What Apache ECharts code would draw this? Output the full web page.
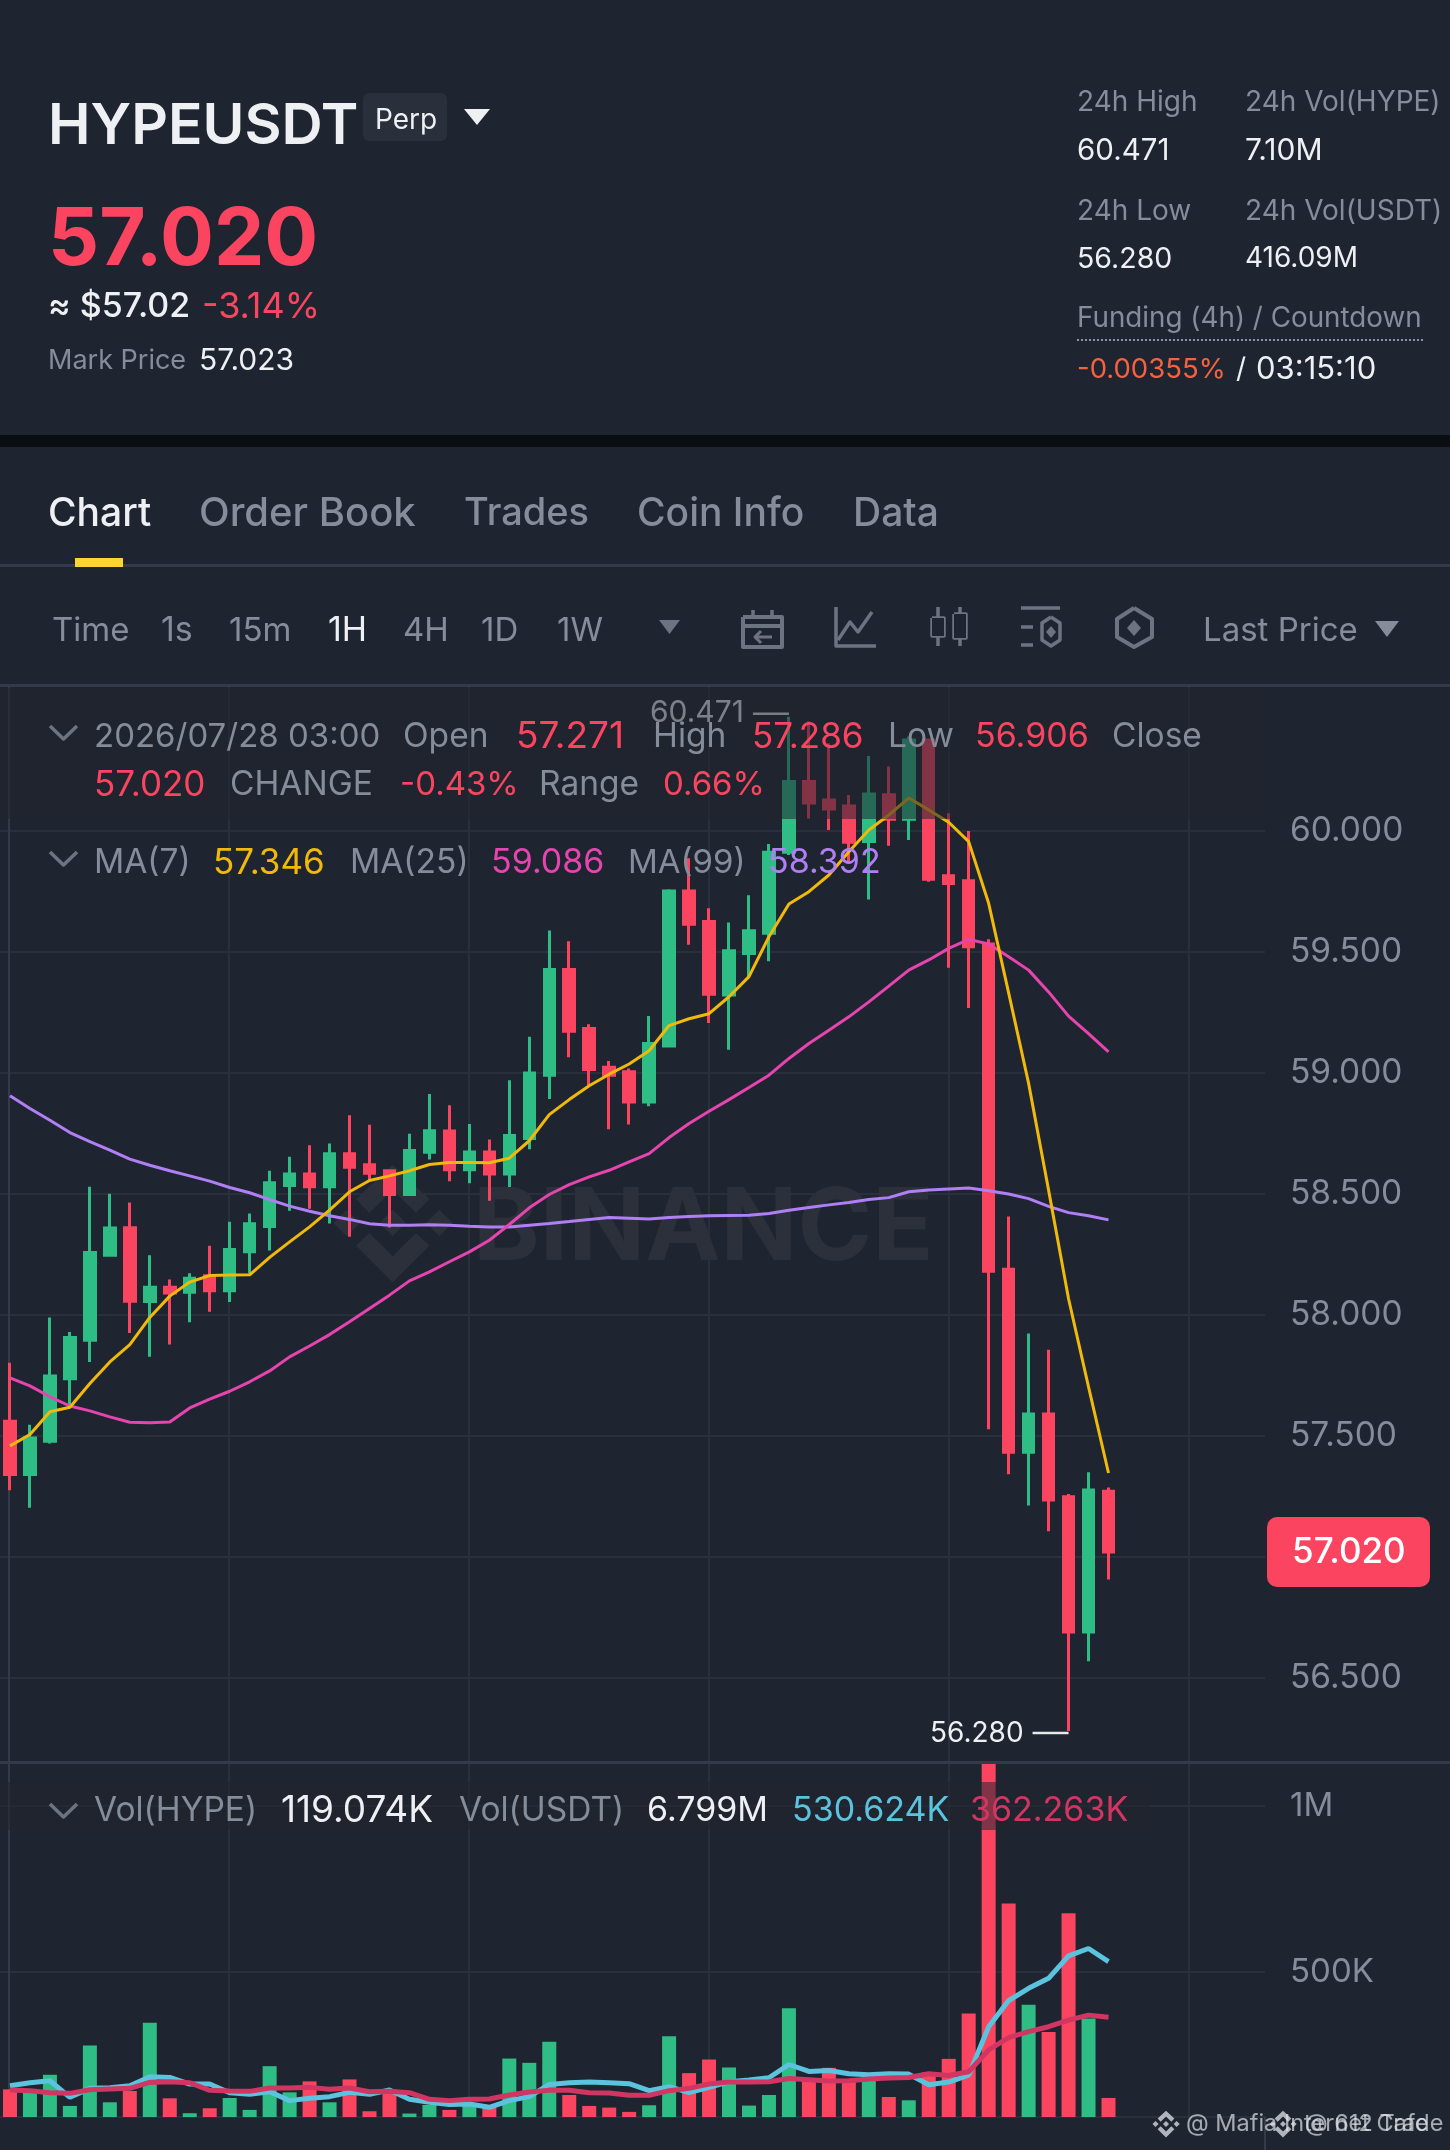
<!DOCTYPE html>
<html>
<head>
<meta charset="utf-8">
<script src="https://cdn.jsdelivr.net/npm/echarts@6/dist/echarts.min.js"></script>
<style>html,body{margin:0;padding:0;background:#1f2530}#c{width:1450px;height:2150px}</style>
</head>
<body>
<div id="c"></div>
<script>
// ---------- data ----------
const opens  = [57.560,57.340,57.477,57.736,57.895,58.246,58.359,58.055,58.114,58.093,58.161,58.099,58.260,58.365,58.534,58.582,58.529,58.665,58.620,58.595,58.497,58.671,58.759,58.599,58.672,58.582,58.728,58.990,59.427,59.183,59.023,59.004,58.879,59.111,59.751,59.625,59.321,59.493,59.576,59.911,60.203,60.127,60.102,59.955,60.149,60.047,60.375,59.814,59.793,59.532,58.188,57.432,57.590,57.248,56.689,57.271];
const closes = [57.340,57.491,57.747,57.906,58.257,58.358,58.056,58.114,58.090,58.151,58.099,58.270,58.376,58.545,58.582,58.529,58.665,58.610,58.585,58.497,58.679,58.760,58.599,58.672,58.582,58.741,58.999,59.427,59.171,59.013,58.990,58.879,59.121,59.751,59.614,59.324,59.504,59.587,59.911,60.203,60.115,60.090,59.952,60.152,60.047,60.375,59.800,59.782,59.521,58.180,57.432,57.590,57.235,56.689,57.276,57.020];
const lows   = [57.275,57.203,57.468,57.619,57.805,58.246,57.925,57.826,57.877,57.969,58.012,58.053,58.170,58.266,58.430,58.438,58.377,58.322,58.556,58.361,58.497,58.642,58.552,58.543,58.471,58.528,58.684,58.891,59.064,58.949,58.767,58.786,58.862,59.111,59.529,59.206,59.095,59.397,59.461,59.900,60.051,60.003,59.865,59.716,59.938,59.962,59.789,59.434,59.268,57.527,57.341,57.212,57.105,56.280,56.568,56.906];
const highs  = [57.802,57.546,57.989,57.929,58.529,58.500,58.464,58.246,58.146,58.172,58.285,58.384,58.418,58.595,58.653,58.700,58.708,58.824,58.785,58.595,58.748,58.912,58.866,58.788,58.724,58.969,59.149,59.588,59.543,59.200,59.049,59.018,59.234,59.758,59.886,59.680,59.621,59.733,59.945,60.471,60.452,60.361,60.148,60.309,60.265,60.389,60.375,60.072,59.999,59.552,58.406,57.923,57.855,57.259,57.349,57.286];
const ma7    = [57.458,57.505,57.599,57.618,57.716,57.805,57.877,57.989,58.077,58.135,58.162,58.164,58.165,58.237,58.301,58.363,58.432,58.508,58.555,58.574,58.595,58.621,58.629,58.629,58.628,58.647,58.719,58.827,58.889,58.946,58.994,59.036,59.091,59.195,59.223,59.244,59.314,59.397,59.562,59.697,59.748,59.817,59.913,60.003,60.065,60.135,60.086,60.035,59.955,59.700,59.330,58.956,58.515,58.066,57.702,57.346];
const ma25   = [57.739,57.706,57.661,57.623,57.603,57.578,57.556,57.554,57.557,57.615,57.651,57.684,57.723,57.768,57.826,57.871,57.918,57.971,58.026,58.081,58.140,58.177,58.219,58.260,58.308,58.373,58.442,58.497,58.538,58.570,58.597,58.632,58.666,58.732,58.790,58.841,58.889,58.939,58.990,59.059,59.121,59.176,59.231,59.293,59.358,59.424,59.466,59.514,59.551,59.532,59.479,59.424,59.334,59.234,59.162,59.086];
const ma99   = [58.905,58.852,58.804,58.753,58.715,58.680,58.643,58.618,58.595,58.574,58.552,58.526,58.504,58.476,58.449,58.428,58.409,58.394,58.376,58.370,58.370,58.372,58.370,58.366,58.363,58.363,58.370,58.377,58.385,58.394,58.402,58.399,58.396,58.402,58.406,58.409,58.410,58.411,58.418,58.432,58.443,58.454,58.464,58.476,58.484,58.508,58.515,58.520,58.524,58.512,58.499,58.480,58.448,58.422,58.409,58.392];
const volumes= [145,143,189,95,277,106,140,346,118,73,88,119,83,215,136,169,106,175,79,138,72,98,83,103,93,238,225,289,128,95,90,77,97,305,194,235,211,96,128,390,173,210,173,173,122,112,196,237,374,1160,706,400,318,676,359,119.074];
const volMa5 = [156,165,171,121,148,150,156,183,181,161,161,135,130,138,111,118,123,136,130,143,115,106,99,101,91,111,123,160,165,167,165,162,141,153,135,151,168,173,180,220,199,202,192,189,192,191,159,167,188,334,413,450,480,548,570,530.624];
const volMa10= [143,141,135,133,144,146,148,166,168,165,142,140,139,149,149,151,145,149,138,139,135,115,111,115,116,128,137,142,142,135,134,127,127,141,148,161,167,167,168,178,174,170,171,176,179,181,192,187,198,264,301,319,334,354,369,362.263];
const priceTicks = [56.5,57,57.5,58,58.5,59,59.5,60];
const volTicks = [500,1000];
const timeGridIndex = [11,23,35,47,59];

const GREEN='#2EBD85', RED='#FB4560', BG='#1f2530', GRID='#2a303b', SEP='#343a47',
      GRAY='#858c9a', WHITE='#eef0f3', YEL='#F0B90B', PINK='#E644AE', PURP='#B17FF5',
      BLUE='#5BC3DD', CRIM='#D13663', DIM='#6d7481';
const FONT='Inter, "Noto Sans", sans-serif';

const slots = 63;
const cats = [];
for (let i=0;i<slots;i++) cats.push(String(i));
const candles = opens.map((o,i)=>[o,closes[i],lows[i],highs[i]]);
const volData = volumes.map((v,i)=>({value:v,itemStyle:{color:closes[i]>=opens[i]?GREEN:RED}}));

// ---------- page furniture ----------
const g=[];
function T(text,x,y,fill,size,weight,extra){g.push(Object.assign({type:'text',z:60,silent:true,style:{text,x,y,fill,font:(weight||400)+' '+size+'px '+FONT,textAlign:'left',textVerticalAlign:'middle',textBaseline:'middle'}},extra||{}));}
function R(x,y,w,h,fill,z,r){g.push({type:'rect',z:z==null?60:z,silent:true,shape:{x,y,width:w,height:h,r:r||0},style:{fill}});}
function P(pts,fill,z){g.push({type:'polygon',z:z==null?60:z,silent:true,shape:{points:pts},style:{fill}});}
function L(pts,stroke,w,z){g.push({type:'polyline',z:z==null?60:z,silent:true,shape:{points:pts},style:{stroke,lineWidth:w||3,fill:null,lineJoin:'round'}});}
// exchange logo, drawn around a centre point at a given scale
function logo(cx,cy,s,c,z){
  const m=a=>a.map(p=>[cx+p[0]*s,cy+p[1]*s]);
  P(m([[0,-175],[110,-72],[70,-30],[0,-100],[-70,-30],[-110,-72]]),c,z);
  P(m([[0,178],[110,68],[70,30],[0,100],[-70,30],[-110,68]]),c,z);
  P(m([[0,-40],[40,0],[0,40],[-40,0]]),c,z);
  P(m([[-138,-40],[-98,0],[-138,40],[-178,0]]),c,z);
  P(m([[140,-40],[180,0],[140,40],[100,0]]),c,z);
}

// header
T('HYPEUSDT',48,127,WHITE,57,600);
R(363,93,84,48,'#2a303b',60,6);
T('Perp',375,121,WHITE,28,400);
P([[464,109],[490,109],[477,125]],WHITE);
T('57.020',48,241,RED,80,700);
T('≈ $57.02',48,307,WHITE,34,500);
T('-3.14%',202,307,RED,36,400);
T('Mark Price',48,361,GRAY,27,400);
T('57.023',199,361,WHITE,30,400);
T('24h High',1077,103,GRAY,28,400);
T('24h Vol(HYPE)',1245,103,GRAY,28,400);
T('60.471',1077,151,WHITE,29.5,400);
T('7.10M',1245,151,WHITE,30,400);
T('24h Low',1077,212,GRAY,28,400);
T('24h Vol(USDT)',1245,212,GRAY,28,400);
T('56.280',1077,259,WHITE,28.5,400);
T('416.09M',1245,259,WHITE,28,400);
T('Funding (4h) / Countdown',1077,319,GRAY,27.8,400);
g.push({type:'line',z:60,silent:true,shape:{x1:1077,y1:340,x2:1423,y2:340},style:{stroke:'#8d94a1',lineWidth:2,lineDash:[2,2]}});
T('-0.00355%',1077,370,'#F6613F',27.5,400);
T('/',1236,370,WHITE,28,400);
T('03:15:10',1256,370,WHITE,31,400);
R(0,435,1450,12,'#0b0e11',60);

// tabs
T('Chart',48,514,WHITE,39,500);
T('Order Book',199,514,GRAY,40,500);
T('Trades',464,514,GRAY,38,500);
T('Coin Info',637,514,GRAY,39,500);
T('Data',853,514,GRAY,39,500);
R(0,564,1450,3,SEP,60);
R(75,558,48,9,'#FCD535',61);

// toolbar
T('Time',52,631,GRAY,33);T('1s',161,631,GRAY,34);T('15m',229,631,GRAY,33);
T('1H',328,631,WHITE,34);T('4H',403,631,GRAY,33);T('1D',481,631,GRAY,33);T('1W',557,631,GRAY,33);
P([[659,620],[680,620],[669.5,634]],DIM);
// calendar icon
L([[743,617],[782,617],[782,647],[743,647],[743,617]],DIM,4);
L([[743,626],[782,626]],DIM,4);L([[753,610],[753,617]],DIM,3.5);L([[772,610],[772,617]],DIM,3.5);
L([[772,637],[755,637]],DIM,3);L([[761,631],[755,637],[761,643]],DIM,3);
// line chart icon
L([[836,607],[836,646],[876,646]],DIM,3.5);L([[838,640],[850,622],[858,632],[872,612]],DIM,3.5);
// candle icon
L([[938,607],[938,646]],DIM,3.5);R(932,618,12,18,BG,61);L([[932,618],[944,618],[944,636],[932,636],[932,618]],DIM,3.5);
L([[960,607],[960,646]],DIM,3.5);R(954,614,12,24,BG,61);L([[954,614],[966,614],[966,638],[954,638],[954,614]],DIM,3.5);
// indicator icon
L([[1021,608],[1060,608]],DIM,3.5);L([[1021,627],[1033,627]],DIM,3.5);L([[1021,645],[1033,645]],DIM,3.5);
L([[1051,617],[1060,623],[1060,640],[1051,646],[1042,640],[1042,623],[1051,617]],DIM,3.5);
P([[1051,626],[1056,632],[1051,638],[1046,632]],DIM);
// hexagon icon
L([[1134,608],[1152,619],[1152,637],[1134,647],[1117,637],[1117,619],[1134,608]],DIM,4);
P([[1134,620],[1141,628],[1134,636],[1127,628]],DIM);
T('Last Price',1203,631,GRAY,33);
P([[1375,621],[1399,621],[1387,637]],GRAY);
R(0,684,1450,3,SEP,60);
R(0,1761,1450,3,SEP,60);

// watermark
const wmColor='#2b303b';
logo(392.7,1223,1/3,wmColor,1);
T('BINANCE',473,1230,wmColor,101,700,{z:1});

// legend dimming strips
R(0,688,1265,131,'rgba(31,37,48,0.55)',50);
R(0,1782,1150,48,'rgba(31,37,48,0.55)',50);

// chevrons
L([[50,726],[63.5,739],[77,726]],DIM,3.5);
L([[50,852],[63.5,865],[77,852]],DIM,3.5);
L([[50,1804],[63.5,1817],[77,1804]],DIM,3.5);

const LS=33.5, VS=34;
// legend row 1
T('2026/07/28 03:00',94,737,GRAY,33);T('Open',403,737,GRAY,LS);T('57.271',516,737,RED,37);
T('High',653,737,GRAY,LS);T('57.286',752,737,RED,35);T('Low',888,737,GRAY,LS);
T('56.906',975,737,RED,VS);T('Close',1112,737,GRAY,LS);
// legend row 2
T('57.020',94,785,RED,35);T('CHANGE',230,785,GRAY,LS);T('-0.43%',400,785,RED,33);
T('Range',539,785,GRAY,LS);T('0.66%',663,785,RED,33);
// legend row 3
T('MA(7)',94,863,GRAY,LS);T('57.346',213,863,YEL,35);T('MA(25)',350,863,GRAY,LS);
T('59.086',491,863,PINK,VS);T('MA(99)',628,863,GRAY,33);T('58.392',768,863,PURP,VS);
// volume legend
T('Vol(HYPE)',94,1811,GRAY,LS);T('119.074K',281,1811,WHITE,37);T('Vol(USDT)',459,1811,GRAY,LS);
T('6.799M',647,1811,WHITE,VS);T('530.624K',792,1811,BLUE,VS);T('362.263K',970,1811,CRIM,VS);

// current price tag
R(1267,1517,163,70,RED,60,10);
T('57.020',1292,1552,'#ffffff',35,500);

// axis separator below volume panel
L([[1265,2117],[1265,2150]],SEP,2);

// share watermarks
const shareC='rgba(225,228,232,0.75)';
logo(1166,2124,0.076,shareC,62);
logo(1283,2124,0.076,shareC,62);
T('@ Mafia Internet Cafe',1186,2124,'rgba(225,228,232,0.7)',23.5,400,{z:62});
T('@ 612 Trade',1305,2124,'rgba(225,228,232,0.7)',23.5,400,{z:62});

// ---------- chart ----------
const hide={show:false};
const lineS=(name,data,color,w,xi,yi)=>({name,type:'line',data,xAxisIndex:xi,yAxisIndex:yi,showSymbol:false,symbol:'none',smooth:false,silent:true,z:4,lineStyle:{color,width:w},animation:false});
const MIN_P=56.152, MAX_P=60.598, MIN_V=61.6, MAX_V=1126.7;

const option={
  backgroundColor:BG,
  animation:false,
  grid:[
    {left:-1.7,width:1260,top:686,height:1076},
    {left:-1.7,width:1260,top:1764,height:353},
    {left:0,width:1265,top:686,height:1076},
    {left:0,width:1265,top:1764,height:353}
  ],
  xAxis:[
    {gridIndex:0,type:'category',data:cats,axisLine:hide,axisTick:hide,axisLabel:hide,splitLine:hide},
    {gridIndex:1,type:'category',data:cats,axisLine:hide,axisTick:hide,axisLabel:hide,splitLine:hide},
    {gridIndex:2,type:'value',min:-0.415,max:62.835,axisLine:hide,axisLabel:hide,
      axisTick:{show:false,customValues:timeGridIndex},splitLine:{show:true,lineStyle:{color:GRID,width:2}}},
    {gridIndex:3,type:'value',min:-0.415,max:62.835,axisLine:{show:true,lineStyle:{color:GRID,width:2}},axisLabel:hide,
      axisTick:{show:false,customValues:timeGridIndex},splitLine:{show:true,lineStyle:{color:GRID,width:2}}}
  ],
  yAxis:[
    {gridIndex:0,type:'value',min:MIN_P,max:MAX_P,axisLine:hide,axisTick:hide,axisLabel:hide,splitLine:hide},
    {gridIndex:1,type:'value',min:MIN_V,max:MAX_V,axisLine:hide,axisTick:hide,axisLabel:hide,splitLine:hide},
    {gridIndex:2,type:'value',position:'right',min:MIN_P,max:MAX_P,
      axisLine:{show:true,lineStyle:{color:SEP,width:2}},
      axisTick:{show:false,customValues:priceTicks},
      axisLabel:{show:true,customValues:priceTicks,margin:25,color:GRAY,fontSize:33.5,fontFamily:FONT,formatter:v=>v.toFixed(3)},
      splitLine:{show:true,lineStyle:{color:GRID,width:2}}},
    {gridIndex:3,type:'value',position:'right',min:MIN_V,max:MAX_V,
      axisLine:{show:true,lineStyle:{color:SEP,width:2}},
      axisTick:{show:false,customValues:volTicks},
      axisLabel:{show:true,customValues:volTicks,margin:25,color:GRAY,fontSize:33,fontFamily:FONT,formatter:v=>v>=1000?'1M':'500K'},
      splitLine:{show:true,lineStyle:{color:GRID,width:2}}}
  ],
  series:[
    {name:'HYPEUSDT',type:'candlestick',xAxisIndex:0,yAxisIndex:0,data:candles,barWidth:11,silent:true,z:3,
      itemStyle:{color:GREEN,color0:RED,borderColor:GREEN,borderColor0:RED,borderWidth:3},
      markPoint:{silent:true,animation:false,symbol:'rect',symbolSize:[36,2.5],symbolOffset:[-18,0],itemStyle:{color:'#e8e8e8'},
        label:{show:true,position:'left',distance:9,color:'#eef0f3',fontSize:28,fontFamily:FONT,formatter:p=>p.value.toFixed(3)},
        data:[
          {coord:[39,60.471],value:60.471,symbolOffset:[-18,-3],label:{fontSize:30,offset:[0,-1]}},
          {coord:[53,56.280],value:56.280,symbolOffset:[-18,2],label:{offset:[0,1]}}
        ]}},
    lineS('MA(99)',ma99,PURP,3,0,0),
    lineS('MA(25)',ma25,PINK,3,0,0),
    lineS('MA(7)',ma7,YEL,3,0,0),
    {name:'Vol(HYPE)',type:'bar',xAxisIndex:1,yAxisIndex:1,data:volData,barWidth:14,clip:true,silent:true,z:3},
    lineS('Vol MA5',volMa5,BLUE,5,1,1),
    lineS('Vol MA10',volMa10,CRIM,5,1,1)
  ],
  graphic:{elements:g}
};
const chart=echarts.init(document.getElementById('c'),null,{width:1450,height:2150});
chart.setOption(option);
</script>
</body>
</html>
